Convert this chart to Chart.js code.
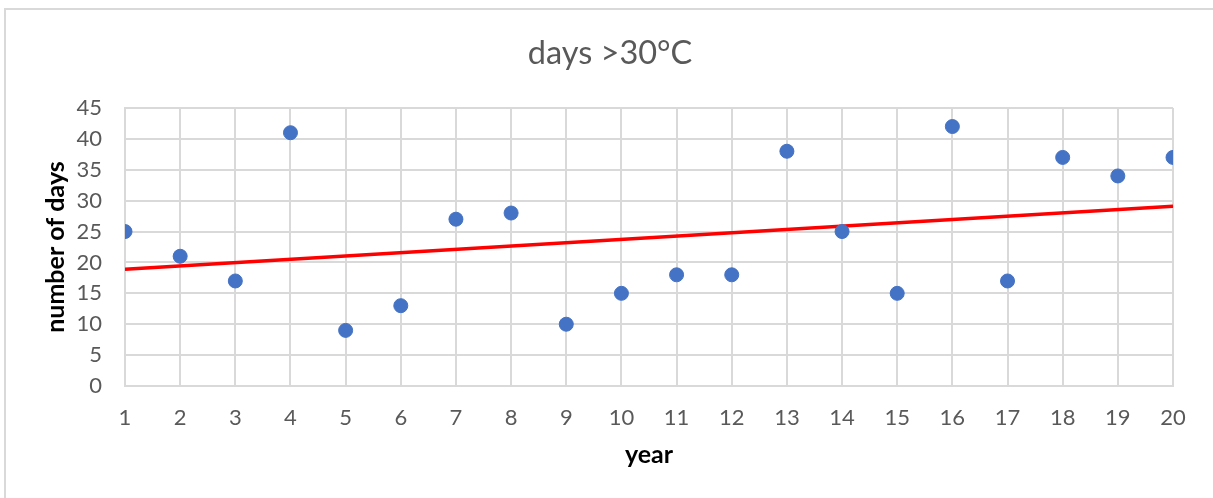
<!DOCTYPE html>
<html>
<head>
<meta charset="utf-8">
<script src="https://cdn.jsdelivr.net/npm/chart.js@4/dist/chart.umd.min.js"></script>
<style>
  html, body { margin: 0; padding: 0; background: #fff; }
  #wrap { position: relative; width: 1213px; height: 498px; }
  canvas { display: block; }
</style>
</head>
<body>
<div id="wrap"><canvas id="c" width="1213" height="498"></canvas></div>
<script>
const years = [1,2,3,4,5,6,7,8,9,10,11,12,13,14,15,16,17,18,19,20];
const days = [25,21,17,41,9,13,27,28,10,15,18,18,38,25,15,42,17,37,34,37];
const trendX = [1, 20];
const trendY = [18.9, 29.1];
const yTicks = [0,5,10,15,20,25,30,35,40,45];
const chartTitle = 'days >30°C';
const xTitle = 'year';
const yTitle = 'number of days';

const FONT = 'Lato, "Open Sans", sans-serif';

const framePlugin = {
  id: 'frame',
  beforeDraw(chart) {
    const ctx = chart.ctx;
    ctx.save();
    ctx.fillStyle = '#ffffff';
    ctx.fillRect(0, 0, chart.width, chart.height);
    ctx.strokeStyle = '#d9d9d9';
    ctx.lineWidth = 2;
    ctx.strokeRect(5, 9, chart.width + 20, chart.height + 20);
    ctx.restore();
  },
  afterDraw(chart) {
    const ctx = chart.ctx;
    ctx.save();
    ctx.fillStyle = '#595959';
    ctx.font = 'normal 32.5px ' + FONT;
    ctx.textAlign = 'center';
    ctx.textBaseline = 'middle';
    ctx.fillText(chartTitle, 610, 54);
    ctx.restore();
  }
};

new Chart(document.getElementById('c'), {
  type: 'scatter',
  data: {
    datasets: [
      {
        label: 'trend',
        type: 'line',
        data: trendX.map((x, i) => ({x: x, y: trendY[i]})),
        borderColor: '#ff0000',
        borderWidth: 3.5,
        pointRadius: 0,
        fill: false,
        order: 2
      },
      {
        label: 'days',
        data: years.map((x, i) => ({x: x, y: days[i]})),
        backgroundColor: '#4472c4',
        borderColor: '#4472c4',
        pointRadius: 7,
        pointHoverRadius: 7,
        order: 1
      }
    ]
  },
  options: {
    responsive: false,
    animation: false,
    devicePixelRatio: 1,
    layout: { padding: { left: 0, right: 40, top: 108, bottom: 0 } },
    plugins: {
      legend: { display: false },
      tooltip: { enabled: false },
      title: { display: false }
    },
    scales: {
      x: {
        type: 'linear',
        min: years[0],
        max: years[years.length - 1],
        afterBuildTicks(scale) { scale.ticks = years.map(v => ({value: v})); },
        afterFit(scale) { scale.height = 112; },
        ticks: {
          color: '#595959',
          font: { family: FONT, size: 22 },
          padding: 19,
          maxRotation: 0,
          autoSkip: false
        },
        grid: { color: '#d9d9d9', lineWidth: 2, drawTicks: false },
        border: { color: '#d9d9d9', width: 2 },
        title: {
          display: true,
          text: xTitle,
          color: '#000000',
          font: { family: FONT, size: 25, weight: 'bold' },
          padding: { top: 0, bottom: 28 }
        }
      },
      y: {
        min: yTicks[0],
        max: yTicks[yTicks.length - 1],
        afterBuildTicks(scale) { scale.ticks = yTicks.map(v => ({value: v})); },
        afterFit(scale) { scale.width = 125; },
        ticks: {
          color: '#595959',
          font: { family: FONT, size: 22 },
          padding: 23
        },
        grid: { color: '#d9d9d9', lineWidth: 2, drawTicks: false },
        border: { color: '#d9d9d9', width: 2 },
        title: {
          display: true,
          text: yTitle,
          color: '#000000',
          font: { family: FONT, size: 25, weight: 'bold' },
          padding: { top: 41, bottom: 0 }
        }
      }
    }
  },
  plugins: [framePlugin]
});
</script>
</body>
</html>
